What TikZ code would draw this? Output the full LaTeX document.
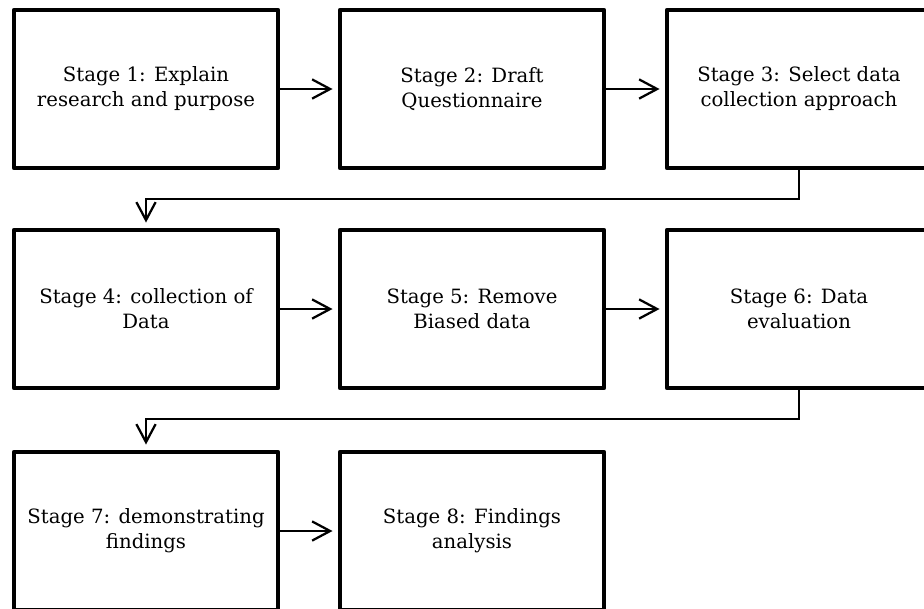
\documentclass[tikz,border=0pt]{standalone}
\usepackage{fontspec}
\setmainfont{DejaVu Serif}
\usetikzlibrary{arrows.meta}

\tikzset{
  stagebox/.style={draw, line width=3.2pt, line join=round, inner sep=0pt,
    minimum width=6.6cm, minimum height=3.95cm, align=center,
    font=\fontsize{14}{17.8}\selectfont},
  flow/.style={line width=1.6pt, -{Straight Barb[length=0.45cm,width=0.48cm]},
    shorten >=0.13cm}
}

\begin{document}
\begin{tikzpicture}[x=0.025cm, y=-0.025cm]
		\useasboundingbox (0,0) rectangle (924,608);
		% first row
		\node[stagebox] (s1) at (146, 89) {Stage 1: Explain\\research and purpose};
		\node[stagebox] (s2) at (472, 89) {Stage 2: Draft\\Questionnaire};
		\node[stagebox] (s3) at (799, 89) {Stage 3: Select data\\collection approach};
		% second row
		\node[stagebox] (s4) at (146, 309) {Stage 4: collection of\\Data};
		\node[stagebox] (s5) at (472, 309) {Stage 5: Remove\\Biased data};
		\node[stagebox] (s6) at (799, 309) {Stage 6: Data\\evaluation};
		% third row
		\node[stagebox] (s7) at (146, 531) {Stage 7: demonstrating\\findings};
		\node[stagebox] (s8) at (472, 531) {Stage 8: Findings\\analysis};
		\draw[flow] (s1) -- (s2);
		\draw[flow] (s2) -- (s3);
		\draw[flow] (s3.south) -- ++(0, 29) -| (s4.north);
		\draw[flow] (s4) -- (s5);
		\draw[flow] (s5) -- (s6);
		\draw[flow] (s6.south) -- ++(0, 29) -| (s7.north);
		\draw[flow] (s7) -- (s8);
	\end{tikzpicture}
\end{document}
